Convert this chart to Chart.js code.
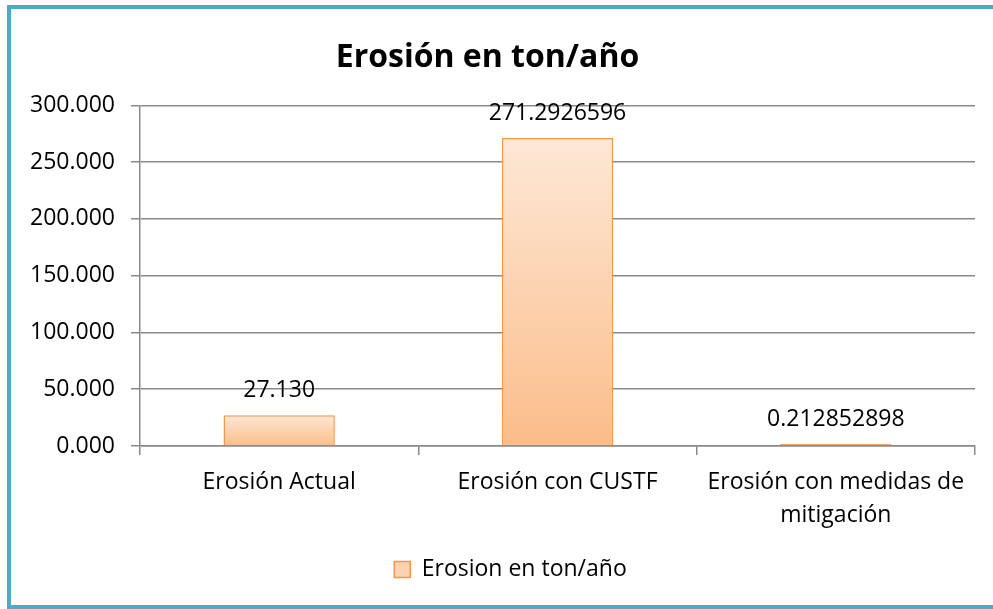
<!DOCTYPE html>
<html>
<head>
<meta charset="utf-8">
<script src="https://cdn.jsdelivr.net/npm/chart.js@4"></script>
<style>
  html, body { margin: 0; padding: 0; background: #fff; overflow: hidden; }
  #wrap { position: absolute; left: 0; top: 0; width: 993px; height: 609px; }
</style>
</head>
<body>
<div id="wrap"><canvas id="c" width="993" height="609"></canvas></div>
<script>
const chartTitle = 'Erosión en ton/año';
const seriesName = 'Erosion en ton/año';
const categories = ['Erosión Actual', 'Erosión con CUSTF', ['Erosión con medidas de', 'mitigación']];
const values = [27.130, 271.2926596, 0.212852898];
const valueLabels = ['27.130', '271.2926596', '0.212852898'];
const yTicks = [0, 50, 100, 150, 200, 250, 300];

const FONT = "'Open Sans', sans-serif";
const gridColor = '#8a8a8a';

function barFill(ctx) {
  const chart = ctx.chart;
  const y = chart.scales && chart.scales.y;
  if (!y || !chart.chartArea || ctx.raw === undefined) return '#fdd3b0';
  const top = y.getPixelForValue(ctx.raw);
  const bottom = y.getPixelForValue(0);
  if (!isFinite(top) || bottom - top < 1) return '#d8985e';
  const g = chart.ctx.createLinearGradient(0, top, 0, bottom);
  g.addColorStop(0, '#fde8d6');
  g.addColorStop(1, '#fbbd8a');
  return g;
}

const framePlugin = {
  id: 'frame',
  beforeDraw(chart) {
    const ctx = chart.ctx;
    ctx.save();
    ctx.fillStyle = '#4bacc6';
    ctx.fillRect(7, 5, 4, 604);
    ctx.fillRect(7, 5, 993, 4);
    ctx.fillRect(7, 605, 993, 4);
    ctx.restore();
  }
};

const legendShiftPlugin = {
  id: 'legendShift',
  afterLayout(chart) {
    if (chart.legend) { chart.legend.left += 23; chart.legend.right += 23; }
  }
};

const dataLabelPlugin = {
  id: 'dataLabels',
  afterDatasetsDraw(chart) {
    const ctx = chart.ctx;
    const meta = chart.getDatasetMeta(0);
    ctx.save();
    ctx.font = "23px " + FONT;
    ctx.fillStyle = '#000';
    ctx.textAlign = 'center';
    ctx.textBaseline = 'middle';
    meta.data.forEach((bar, i) => {
      ctx.fillText(valueLabels[i], bar.x, bar.y - 25);
    });
    ctx.restore();
  }
};

new Chart(document.getElementById('c'), {
  type: 'bar',
  data: {
    labels: categories,
    datasets: [{
      label: seriesName,
      data: values,
      backgroundColor: barFill,
      borderColor: '#f79646',
      borderWidth: 1.5,
      minBarLength: 2,
      categoryPercentage: 1.0,
      barPercentage: 0.40
    }]
  },
  options: {
    responsive: false,
    animation: false,
    devicePixelRatio: 1,
    layout: { padding: { left: 0, right: 18, top: 0, bottom: 18 } },
    plugins: {
      title: {
        display: true,
        text: chartTitle,
        color: '#000',
        font: { family: FONT, size: 32, weight: 'bold' },
        padding: { top: 39, bottom: 28 }
      },
      legend: {
        display: true,
        position: 'bottom',
        labels: {
          color: '#000',
          font: { family: FONT, size: 23 },
          boxWidth: 16,
          boxHeight: 16,
          padding: 10,
          generateLabels(chart) {
            return [{
              text: seriesName,
              fillStyle: '#fcd3b2',
              strokeStyle: '#f79646',
              lineWidth: 1.5,
              datasetIndex: 0
            }];
          }
        }
      },
      tooltip: { enabled: false }
    },
    scales: {
      x: {
        offset: true,
        grid: { display: true, drawOnChartArea: false, offset: true, color: gridColor, lineWidth: 1.5, tickLength: 9 },
        border: { display: true, color: gridColor, width: 1.5 },
        ticks: { color: '#000', font: { family: FONT, size: 23, lineHeight: 1.42 }, padding: 11, maxRotation: 0, autoSkip: false },
        afterFit(s) { s.height = 102; }
      },
      y: {
        min: 0,
        max: 300,
        afterBuildTicks(s) { s.ticks = yTicks.map(v => ({ value: v })); },
        grid: { color: gridColor, lineWidth: 1.5, tickLength: 9 },
        border: { display: true, color: gridColor, width: 1.5 },
        ticks: {
          color: '#000',
          font: { family: FONT, size: 23 },
          padding: 16,
          callback: v => Number(v).toFixed(3)
        },
        afterFit(s) { s.width = 140; }
      }
    }
  },
  plugins: [framePlugin, legendShiftPlugin, dataLabelPlugin]
});
</script>
</body>
</html>
